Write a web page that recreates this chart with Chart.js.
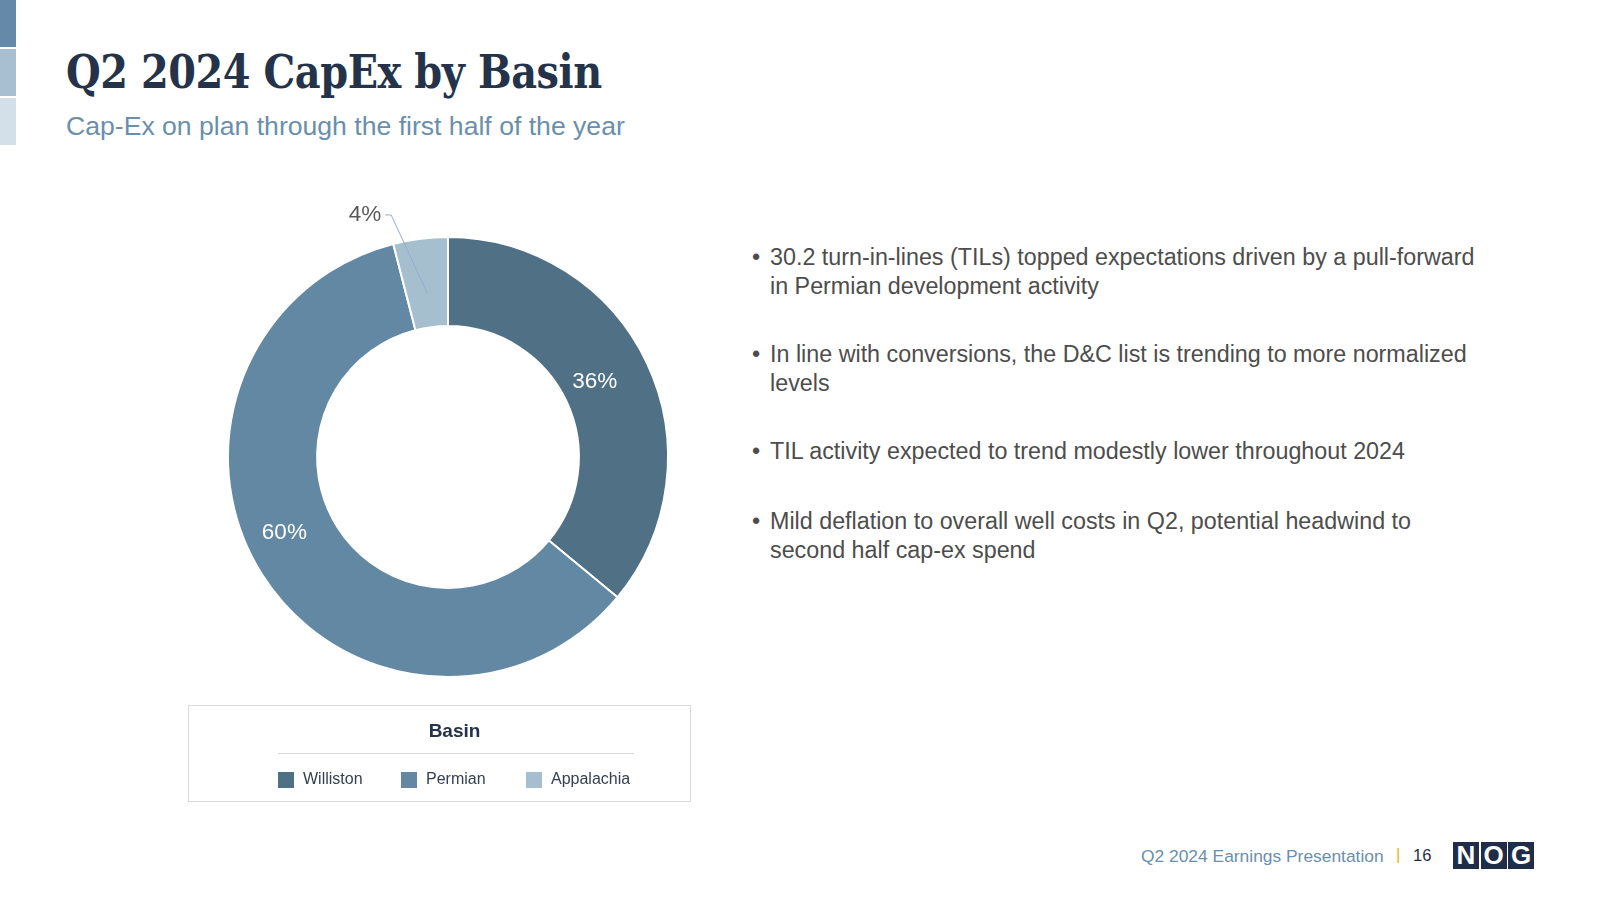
<!DOCTYPE html>
<html>
<head>
<meta charset="utf-8">
<script src="https://cdn.jsdelivr.net/npm/chart.js@4.4.1/dist/chart.umd.min.js"></script>
<style>
  html, body { margin: 0; padding: 0; background: #ffffff; }
  body { width: 1600px; height: 900px; position: relative; overflow: hidden; font-family: "Liberation Sans", Arial, sans-serif; }
  .bar { position: absolute; left: 0; width: 16px; }
  #title { position: absolute; left: 66px; top: 45px; font-family: "DejaVu Serif", serif; font-weight: bold; font-size: 46px; color: #243349; white-space: nowrap; letter-spacing: -0.5px; transform: scaleX(0.866); transform-origin: left top; }
  #subtitle { position: absolute; left: 66px; top: 111px; font-size: 26.6px; color: #6a8fad; white-space: nowrap; }
  #chartWrap { position: absolute; left: 200px; top: 190px; width: 496px; height: 534px; }
  #legendBox { position: absolute; left: 188px; top: 705px; width: 503px; height: 97px; border: 1.5px solid #d9d9d9; box-sizing: border-box; }
  #legendTitle { position: absolute; left: 15px; width: 100%; top: 14px; text-align: center; font-weight: bold; font-size: 19px; color: #243349; }
  #legendRule { position: absolute; left: 89px; width: 356px; top: 47px; height: 0; border-top: 1.5px solid #d9d9d9; }
  #legendItems { position: absolute; left: 89px; top: 64px; white-space: nowrap; font-size: 16px; color: #333f50; }
  .item { position: absolute; top: 0; }
  .sw { position: absolute; top: 2px; width: 16px; height: 16px; }
  .lbl { position: absolute; left: 25px; top: 0; }
  #bullets { position: absolute; left: 752px; top: 243px; width: 800px; font-size: 23.3px; color: #4d4d4d; line-height: 28.5px; }
  .b { position: absolute; left: 0; padding-left: 18px; white-space: nowrap; }
  .b:before { content: "\2022"; position: absolute; left: 0; }
  #footer { position: absolute; top: 846px; left: 1141px; font-size: 17.4px; color: #6a8fad; white-space: nowrap; }
  #sep { position: absolute; top: 845px; left: 1396px; font-size: 17px; color: #f0b323; }
  #page { position: absolute; top: 846px; left: 1413px; font-size: 16.5px; color: #1f2d4a; }
  .logo { position: absolute; top: 842px; width: 26px; height: 27px; background: #1f2d4a; color: #fff; font-weight: bold; font-size: 26px; text-align: center; line-height: 27px; }
</style>
</head>
<body>
<div class="bar" style="top:0;height:47px;background:#6589a8"></div>
<div class="bar" style="top:49px;height:47px;background:#a7bfd0"></div>
<div class="bar" style="top:98px;height:47px;background:#d3dfe9"></div>

<div id="title">Q2 2024 CapEx by Basin</div>
<div id="subtitle">Cap-Ex on plan through the first half of the year</div>

<div id="chartWrap"><canvas id="basinChart"></canvas></div>

<div id="legendBox">
  <div id="legendTitle">Basin</div>
  <div id="legendRule"></div>
  <div id="legendItems"></div>
</div>

<div id="bullets"></div>

<div id="footer">Q2 2024 Earnings Presentation</div>
<div id="sep">|</div>
<div id="page">16</div>
<div class="logo" style="left:1453px">N</div>
<div class="logo" style="left:1480.5px">O</div>
<div class="logo" style="left:1508px">G</div>

<script>
// data
const basins = ['Williston', 'Permian', 'Appalachia'];
const capexShare = [36, 60, 4];
const basinColors = ['#507085', '#6288a4', '#a6bfcf'];
const legendOffsets = [0, 123, 248];
const bulletLines = [
    ['30.2 turn-in-lines (TILs) topped expectations driven by a pull-forward', 'in Permian development activity'],
    ['In line with conversions, the D&C list is trending to more normalized', 'levels'],
    ['TIL activity expected to trend modestly lower throughout 2024'],
    ['Mild deflation to overall well costs in Q2, potential headwind to', 'second half cap-ex spend']
];
const bulletTops = [0, 97, 194, 264];
// label placement tweaks per slice (degrees off the mid angle, radius as share of outer)
const labelNudge = [{ da: -2, r: 0.75 }, { da: 7.5, r: 0.82 }, { da: 0, r: 0.75 }];

// bullets
const bulletBox = document.getElementById('bullets');
bulletLines.forEach((lines, i) => {
    const d = document.createElement('div');
    d.className = 'b';
    d.style.top = bulletTops[i] + 'px';
    d.innerHTML = lines.map(l => l.replace('&', '&amp;')).join('<br>');
    bulletBox.appendChild(d);
});

// legend
const legendBox = document.getElementById('legendItems');
basins.forEach((name, i) => {
    const it = document.createElement('div');
    it.className = 'item';
    it.style.left = legendOffsets[i] + 'px';
    it.innerHTML = `<div class="sw" style="background:${basinColors[i]}"></div><div class="lbl">${name}</div>`;
    legendBox.appendChild(it);
});

// percent labels on / outside the slices
const sliceLabels = {
    id: 'sliceLabels',
    afterDatasetsDraw(chart) {
        const ctx = chart.ctx;
        const meta = chart.getDatasetMeta(0);
        ctx.save();
        ctx.font = '22.5px "Liberation Sans", Arial, sans-serif';
        ctx.textBaseline = 'middle';
        meta.data.forEach((arc, i) => {
            const p = arc.getProps(['x', 'y', 'startAngle', 'endAngle', 'innerRadius', 'outerRadius'], true);
            const text = capexShare[i] + '%';
            const mid = (p.startAngle + p.endAngle) / 2 + labelNudge[i].da * Math.PI / 180;
            const r = p.outerRadius * labelNudge[i].r;
            if (capexShare[i] >= 10) {
                ctx.fillStyle = '#ffffff';
                ctx.textAlign = 'center';
                ctx.fillText(text, p.x + Math.cos(mid) * r, p.y + Math.sin(mid) * r);
            } else {
                // leader line to an outside label
                const sx = p.x + Math.cos(mid) * r, sy = p.y + Math.sin(mid) * r;
                const ea = mid - 0.105, er = p.outerRadius * 1.13;
                const ex = p.x + Math.cos(ea) * er, ey = p.y + Math.sin(ea) * er;
                ctx.strokeStyle = '#8fb0cc';
                ctx.lineWidth = 1;
                ctx.beginPath();
                ctx.moveTo(sx, sy);
                ctx.lineTo(ex, ey);
                ctx.lineTo(ex - 6, ey);
                ctx.stroke();
                ctx.fillStyle = '#595959';
                ctx.textAlign = 'right';
                ctx.fillText(text, ex - 10, ey);
            }
        });
        ctx.restore();
    }
};

new Chart(document.getElementById('basinChart'), {
    type: 'doughnut',
    data: {
        labels: basins,
        datasets: [{
            data: capexShare,
            backgroundColor: basinColors,
            borderColor: '#ffffff',
            borderWidth: 2
        }]
    },
    options: {
        responsive: true,
        maintainAspectRatio: false,
        animation: false,
        cutout: '59.5%',
        layout: { padding: { top: 46, bottom: 46, left: 27, right: 27 } },
        plugins: {
            legend: { display: false },
            tooltip: { enabled: false }
        }
    },
    plugins: [sliceLabels]
});
</script>
</body>
</html>
